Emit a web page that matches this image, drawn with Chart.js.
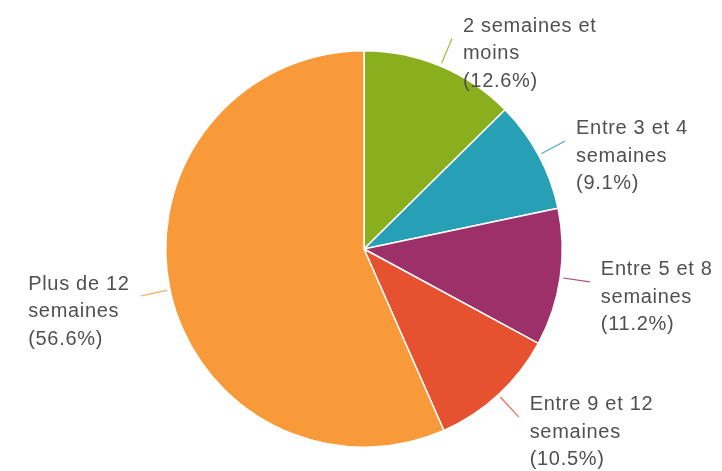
<!DOCTYPE html>
<html>
<head>
<meta charset="utf-8">
<script src="https://cdn.jsdelivr.net/npm/chart.js@4.4.0/dist/chart.umd.min.js"></script>
<style>
  html, body { margin: 0; padding: 0; background: #fff; }
  #wrap { width: 722px; height: 471px; }
</style>
</head>
<body>
<div id="wrap"><canvas id="pieChart" width="722" height="471"></canvas></div>
<script>
// Data (clockwise from 12 o'clock)
const categories = [
    ["2 semaines et", "moins"],
    ["Entre 3 et 4", "semaines"],
    ["Entre 5 et 8", "semaines"],
    ["Entre 9 et 12", "semaines"],
    ["Plus de 12", "semaines"]
];
const shares = [12.6, 9.1, 11.2, 10.5, 56.6];
const sliceColors = ["#8aaf1e", "#27a0b6", "#9d2f69", "#e6512f", "#f89a39"];

// Outside labels with a short radial leader line
const outsideLabels = {
    id: "outsideLabels",
    afterDatasetsDraw(chart) {
        const ctx = chart.ctx;
        const meta = chart.getDatasetMeta(0);
        ctx.save();
        ctx.font = "20px 'Liberation Sans', Arial, sans-serif";
        ctx.letterSpacing = "0.7px";
        ctx.textBaseline = "middle";
        meta.data.forEach(function (arc, i) {
            const mid = (arc.startAngle + arc.endAngle) / 2;
            const r = arc.outerRadius;
            const cos = Math.cos(mid), sin = Math.sin(mid);
            const x1 = arc.x + cos * (r + 3), y1 = arc.y + sin * (r + 3);
            const x2 = arc.x + cos * (r + 30), y2 = arc.y + sin * (r + 30);

            ctx.strokeStyle = sliceColors[i];
            ctx.globalAlpha = 0.85;
            ctx.lineWidth = 1.2;
            ctx.beginPath();
            ctx.moveTo(x1, y1);
            ctx.lineTo(x2, y2);
            ctx.stroke();
            ctx.globalAlpha = 1;

            const lines = categories[i].concat(["(" + shares[i].toFixed(1) + "%)"]);
            const widest = Math.max.apply(null, lines.map(function (t) { return ctx.measureText(t).width; }));
            const tx = cos >= 0 ? x2 + 11 : x2 - 11 - widest;
            ctx.fillStyle = "#505050";
            ctx.textAlign = "left";
            lines.forEach(function (t, k) {
                ctx.fillText(t, tx, y2 - 12 + k * 27.5);
            });
        });
        ctx.restore();
    }
};

new Chart(document.getElementById("pieChart").getContext("2d"), {
    type: "pie",
    data: {
        labels: categories.map(function (c) { return c.join(" "); }),
        datasets: [{
            data: shares,
            backgroundColor: sliceColors,
            borderColor: "#ffffff",
            borderWidth: 1.5
        }]
    },
    options: {
        responsive: false,
        animation: false,
        layout: { padding: { top: 50, bottom: 23, left: 165, right: 159 } },
        plugins: {
            legend: { display: false },
            tooltip: { enabled: false }
        }
    },
    plugins: [outsideLabels]
});
</script>
</body>
</html>
